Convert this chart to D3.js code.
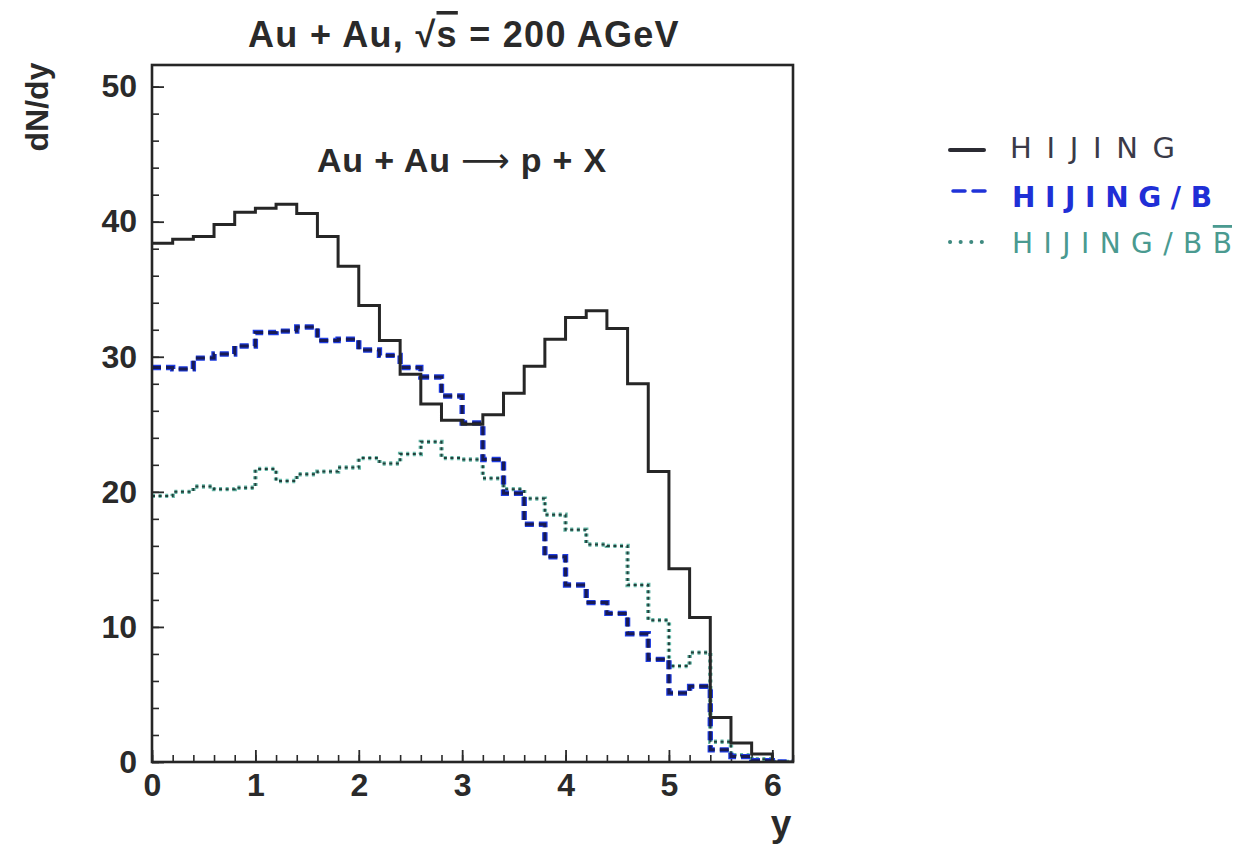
<!DOCTYPE html>
<html>
<head>
<meta charset="utf-8">
<script src="https://cdn.jsdelivr.net/npm/d3@7"></script>
<style>
  body { margin: 0; background: #fff; }
  svg { display: block; }
  .lab { font-family: "Liberation Sans", Arial, Helvetica, sans-serif; font-weight: bold; fill: #2a2a2a; }
  .hand { font-family: "DejaVu Sans", sans-serif; }
</style>
</head>
<body>
<svg id="chart" width="1254" height="844"></svg>
<script>
// Rapidity bins (lower edges), width 0.2
const binLow = [0.0, 0.2, 0.4, 0.6, 0.8, 1.0, 1.2, 1.4, 1.6, 1.8,
                2.0, 2.2, 2.4, 2.6, 2.8, 3.0, 3.2, 3.4, 3.6, 3.8,
                4.0, 4.2, 4.4, 4.6, 4.8, 5.0, 5.2, 5.4, 5.6, 5.8, 6.0];
const binWidth = 0.2;

// dN/dy of protons, Au + Au at 200 AGeV
const hijing   = [38.4, 38.7, 38.9, 39.8, 40.7, 41.0, 41.3, 40.6, 38.9, 36.7,
                  33.8, 31.2, 28.7, 26.5, 25.3, 25.0, 25.7, 27.3, 29.3, 31.3,
                  32.9, 33.4, 32.1, 28.0, 21.5, 14.3, 10.7, 3.3, 1.4, 0.6, 0.0];
const hijingB  = [29.2, 29.1, 29.9, 30.2, 30.8, 31.8, 31.9, 32.2, 31.2, 31.3,
                  30.5, 30.1, 29.2, 28.5, 27.1, 25.1, 22.4, 19.9, 17.6, 15.2,
                  13.1, 11.8, 11.0, 9.5, 7.6, 5.1, 5.6, 0.9, 0.4, 0.1, 0.0];
const hijingBB = [19.7, 20.0, 20.4, 20.2, 20.3, 21.7, 20.8, 21.3, 21.5, 21.8,
                  22.5, 22.1, 22.8, 23.7, 22.5, 22.4, 21.0, 20.2, 19.5, 18.3,
                  17.2, 16.1, 16.0, 13.1, 10.5, 7.1, 8.1, 1.5, 0.5, 0.2, 0.0];

const xTickLabels = [0, 1, 2, 3, 4, 5, 6];
const yTickLabels = [0, 10, 20, 30, 40, 50];

const svg = d3.select("#chart");
const frame = { left: 152, right: 793, top: 65, bottom: 762 };

const x = d3.scaleLinear().domain([0, 6.2]).range([frame.left, frame.right]);
const y = d3.scaleLinear().domain([0, 51.6]).range([frame.bottom, frame.top]);

// ---- axes: ticks point into the frame ----
const xMinor = d3.range(0, 6.2001, binWidth).map(v => +v.toFixed(1));
const yMinor = d3.range(0, 51, 2);

svg.append("g")
  .attr("transform", `translate(0,${frame.bottom})`)
  .call(d3.axisBottom(x).tickValues(xMinor).tickSize(-7).tickFormat(""))
  .call(g => g.select(".domain").remove())
  .call(g => g.selectAll("line").attr("stroke", "#2a2a2a").attr("stroke-width", 1.6));

svg.append("g")
  .attr("transform", `translate(0,${frame.bottom})`)
  .call(d3.axisBottom(x).tickValues(xTickLabels).tickSize(-12).tickPadding(11).tickFormat(d3.format("d")))
  .call(g => g.select(".domain").remove())
  .call(g => g.selectAll("line").attr("stroke", "#2a2a2a").attr("stroke-width", 1.8))
  .call(g => g.selectAll("text").attr("class", "lab").attr("font-size", 32));

svg.append("g")
  .attr("transform", `translate(${frame.left},0)`)
  .call(d3.axisLeft(y).tickValues(yMinor).tickSize(-7).tickFormat(""))
  .call(g => g.select(".domain").remove())
  .call(g => g.selectAll("line").attr("stroke", "#2a2a2a").attr("stroke-width", 1.6));

svg.append("g")
  .attr("transform", `translate(${frame.left},0)`)
  .call(d3.axisLeft(y).tickValues(yTickLabels).tickSize(-12).tickPadding(15).tickFormat(d3.format("d")))
  .call(g => g.select(".domain").remove())
  .call(g => g.selectAll("line").attr("stroke", "#2a2a2a").attr("stroke-width", 1.8))
  .call(g => g.selectAll("text").attr("class", "lab").attr("font-size", 32));

// ---- histograms ----
svg.append("clipPath").attr("id", "plot")
  .append("rect")
  .attr("x", frame.left).attr("y", frame.top)
  .attr("width", frame.right - frame.left).attr("height", frame.bottom - frame.top);

const step = d3.line()
  .x(d => x(d[0]))
  .y(d => y(d[1]))
  .curve(d3.curveStepAfter);

function histPoints(vals) {
  const pts = binLow.map((b, i) => [b, vals[i]]);
  pts.push([binLow[binLow.length - 1] + binWidth, vals[vals.length - 1]]);
  return pts;
}

const plot = svg.append("g").attr("clip-path", "url(#plot)");

// HIJING/BB̄ : dotted teal
plot.append("path").datum(histPoints(hijingBB))
  .attr("d", step).attr("fill", "none")
  .attr("stroke", "#66b8a8").attr("stroke-width", 4.4)
  .attr("stroke-dasharray", "3,3.6");
plot.append("path").datum(histPoints(hijingBB))
  .attr("d", step).attr("fill", "none")
  .attr("stroke", "#23403b").attr("stroke-width", 2)
  .attr("stroke-dasharray", "3,3.6");

// HIJING/B : dashed blue
plot.append("path").datum(histPoints(hijingB))
  .attr("d", step).attr("fill", "none")
  .attr("stroke", "#1d3be0").attr("stroke-width", 5.4)
  .attr("stroke-dasharray", "9,5");
plot.append("path").datum(histPoints(hijingB))
  .attr("d", step).attr("fill", "none")
  .attr("stroke", "#171a55").attr("stroke-width", 3)
  .attr("stroke-dasharray", "9,5");

// HIJING : solid
plot.append("path").datum(histPoints(hijing))
  .attr("d", step).attr("fill", "none")
  .attr("stroke", "#262626").attr("stroke-width", 3);

// frame
svg.append("rect")
  .attr("x", frame.left).attr("y", frame.top)
  .attr("width", frame.right - frame.left).attr("height", frame.bottom - frame.top)
  .attr("fill", "none").attr("stroke", "#262626").attr("stroke-width", 2.6);

// ---- titles ----
const title = svg.append("text").attr("class", "lab")
  .attr("x", 464).attr("y", 47).attr("text-anchor", "middle")
  .attr("font-size", 36).attr("letter-spacing", 1.3);
title.append("tspan").text("Au + Au, \u221A");
title.append("tspan").attr("text-decoration", "overline").text("s");
title.append("tspan").text(" = 200 AGeV");

const reaction = svg.append("text").attr("class", "lab")
  .attr("x", 462).attr("y", 172).attr("text-anchor", "middle")
  .attr("font-size", 34).attr("letter-spacing", 0.8);
reaction.append("tspan").text("Au + Au ");
reaction.append("tspan").attr("font-family", "DejaVu Sans").attr("font-weight", "normal").text("\u27F6");
reaction.append("tspan").text(" p + X");

svg.append("text").attr("class", "lab")
  .attr("transform", "translate(48,107) rotate(-90)")
  .attr("text-anchor", "middle").attr("font-size", 32)
  .text("dN/dy");

svg.append("text").attr("class", "lab")
  .attr("x", 781).attr("y", 836).attr("text-anchor", "middle")
  .attr("font-size", 37)
  .text("y");

// ---- legend ----
const legend = svg.append("g");

legend.append("line")
  .attr("x1", 950).attr("x2", 984).attr("y1", 150).attr("y2", 150)
  .attr("stroke", "#2b2b33").attr("stroke-width", 4).attr("stroke-linecap", "round");
legend.append("text").attr("class", "hand")
  .attr("x", 1010).attr("y", 158).attr("font-size", 29)
  .attr("textLength", 165).attr("lengthAdjust", "spacing")
  .attr("fill", "#3a3a48")
  .text("HIJING");

legend.append("line")
  .attr("x1", 953).attr("x2", 987).attr("y1", 191).attr("y2", 191)
  .attr("stroke", "#1f32d8").attr("stroke-width", 3.5)
  .attr("stroke-dasharray", "12,8").attr("stroke-linecap", "round");
legend.append("text").attr("class", "hand")
  .attr("x", 1012).attr("y", 207).attr("font-size", 28).attr("font-weight", "bold")
  .attr("textLength", 200).attr("lengthAdjust", "spacing")
  .attr("fill", "#1f2fd6")
  .text("HIJING/B");

legend.append("line")
  .attr("x1", 950).attr("x2", 992).attr("y1", 242).attr("y2", 242)
  .attr("stroke", "#3f8a80").attr("stroke-width", 4)
  .attr("stroke-dasharray", "0.1,10.5").attr("stroke-linecap", "round");
const l3 = legend.append("text").attr("class", "hand")
  .attr("x", 1012).attr("y", 253).attr("font-size", 28)
  .attr("textLength", 220).attr("lengthAdjust", "spacing")
  .attr("fill", "#4a9a90");
l3.append("tspan").text("HIJING/B");
l3.append("tspan").attr("text-decoration", "overline").text("B");
</script>
</body>
</html>
